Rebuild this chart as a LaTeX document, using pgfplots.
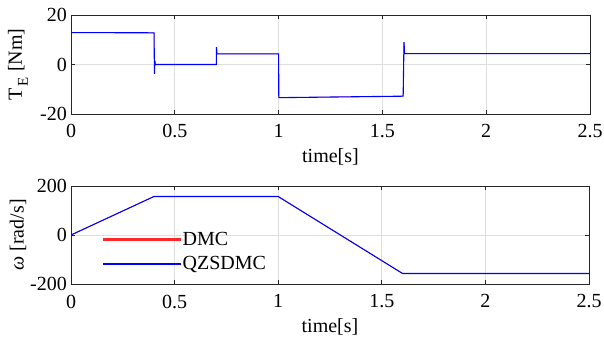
\documentclass[border=0pt]{standalone}
\usepackage{pgfplots}
\pgfplotsset{compat=1.18}
\usepackage{fontspec}
\setmainfont{Liberation Serif}
\definecolor{axgray}{gray}{0.15}
\definecolor{grd}{gray}{0.87}
\definecolor{myred}{RGB}{255,40,40}
\definecolor{myblue}{RGB}{0,0,255}
\begin{document}
\begin{tikzpicture}
\useasboundingbox (0pt,0pt) rectangle (604pt,340pt);
\pgfplotsset{
  every axis/.append style={
    scale only axis,
    font=\fontsize{20}{24}\selectfont,
    /pgf/number format/assume math mode=true,
    xmin=0, xmax=2.5,
    xtick={0,0.5,1,1.5,2,2.5},
    xticklabels={0,0.5,1,1.5,2,2.5},
    grid=major,
    major grid style={grd, line width=0.8pt},
    axis line style={axgray, line width=0.9pt},
    tick style={axgray, line width=0.9pt},
    tick align=inside,
    major tick length=4pt,
    xlabel={time[s]},
    xlabel style={at={(axis description cs:0.5,0)}, anchor=north, inner sep=0pt, yshift=-34pt},
    ylabel style={at={(axis description cs:0,0.5)}, anchor=center, yshift=53pt},
    tick label style={font=\fontsize{20}{24}\selectfont},
    xticklabel style={anchor=north, inner sep=0pt, yshift=-10.5pt},
    yticklabel style={anchor=east, inner sep=0pt, xshift=-4pt},
  }
}
\begin{axis}[
  at={(71pt,226pt)}, anchor=south west,
  width=519pt, height=99pt,
  ymin=-20, ymax=20,
  ytick={-20,0,20},
  yticklabels={-20,0,20},
  ylabel={T\kern2pt\raisebox{-6pt}{\fontsize{15}{15}\selectfont E} [Nm]},
]
\addplot[myred, line width=0.4pt] coordinates {
(0,0) (0.001,12.9) (0.4,12.8) (0.402,-3.8) (0.404,1.5) (0.406,0) (0.7,0) (0.701,7.0) (0.703,4.3) (1.0,4.3) (1.001,-13.4) (1.6,-12.8) (1.604,9.0) (1.607,4.4) (2.5,4.4)
};
\addplot[myblue, line width=1.1pt] coordinates {
(0,0) (0.001,12.9) (0.4,12.8) (0.402,-3.8) (0.404,1.5) (0.406,0) (0.7,0) (0.701,7.0) (0.703,4.3) (1.0,4.3) (1.001,-13.4) (1.6,-12.8) (1.604,9.0) (1.607,4.4) (2.5,4.4)
};
\end{axis}
\begin{axis}[
  at={(71pt,56pt)}, anchor=south west,
  width=518pt, height=98pt,
  ymin=-200, ymax=200,
  ytick={-200,0,200},
  yticklabels={-200,0,200},
  ylabel={\textit{ω} [rad/s]},
  legend style={draw=none, fill=none, at={(0.056,0.575)}, anchor=north west,
    font=\fontsize{20}{24}\selectfont, row sep=6pt},
  legend cell align=left,
]
\addlegendimage{legend image code/.code={\fill[myred] (0pt,-0.6pt) rectangle (77pt,0.6pt);}}
\addlegendentry{DMC}
\addlegendimage{legend image code/.code={\fill[myblue] (0pt,-0.55pt) rectangle (77pt,0.55pt);}}
\addlegendentry{QZSDMC}
\addplot[myred, line width=0.4pt, forget plot] coordinates {
(0,0) (0.4,157) (1.0,157) (1.6,-157) (2.5,-157)
};
\addplot[myblue, line width=1.1pt, forget plot] coordinates {
(0,0) (0.4,157) (1.0,157) (1.6,-157) (2.5,-157)
};
\end{axis}
\end{tikzpicture}
\end{document}
